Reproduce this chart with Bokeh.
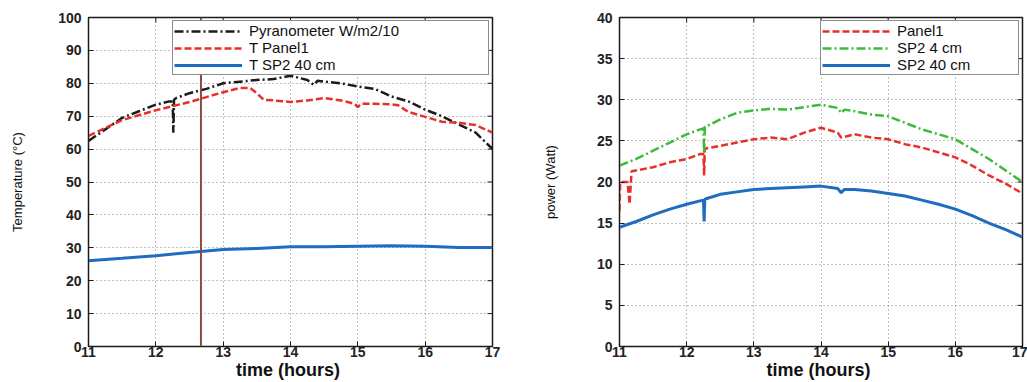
import math
from bokeh.plotting import figure
from bokeh.layouts import row
from bokeh.models import Span, Legend, LegendItem, FixedTicker
from bokeh.embed import file_html
from bokeh.resources import INLINE

# ---------------- data: left panel (temperatures) ----------------
pyr_x = [11.0, 11.25, 11.5, 11.75, 12.0, 12.2, 12.25, 12.26, 12.27, 12.3, 12.5, 12.75, 13.0,
         13.25, 13.5, 13.75, 14.0, 14.25, 14.35, 14.4, 14.5, 14.75, 15.0, 15.25, 15.5,
         15.75, 16.0, 16.25, 16.5, 16.75, 17.0]
pyr_y = [62.5, 66.0, 69.5, 71.5, 73.5, 74.5, 74.5, 65.0, 75.0, 75.5, 77.0, 78.3, 80.0,
         80.5, 81.0, 81.3, 82.3, 81.0, 79.5, 80.8, 80.5, 80.0, 79.0, 78.3, 76.0,
         74.5, 72.0, 70.0, 67.5, 65.0, 60.0]

tp1_x = [11.0, 11.5, 12.0, 12.5, 12.75, 13.0, 13.25, 13.4, 13.5, 13.6, 13.75, 14.0, 14.25,
         14.5, 14.75, 14.95, 15.0, 15.05, 15.25, 15.5, 15.6, 15.75, 16.0, 16.25, 16.5,
         16.75, 17.0]
tp1_y = [64.0, 68.8, 71.8, 74.3, 75.8, 77.3, 78.6, 78.6, 77.0, 75.0, 74.8, 74.3, 74.8,
         75.5, 74.8, 73.8, 72.8, 73.8, 73.8, 73.6, 73.3, 71.3, 69.8, 68.3, 68.0,
         67.3, 65.0]

sp40t_x = [11.0, 11.5, 12.0, 12.5, 13.0, 13.5, 14.0, 14.5, 15.0, 15.5, 16.0, 16.5, 17.0]
sp40t_y = [26.1, 26.8, 27.6, 28.6, 29.5, 29.8, 30.3, 30.3, 30.5, 30.6, 30.5, 30.1, 30.1]

marker_x = 12.67  # vertical brown line seen on the scan

# ---------------- data: right panel (power) ----------------
pan_x = [11.0, 11.01, 11.12, 11.15, 11.18, 11.5, 11.75, 12.0, 12.2, 12.25, 12.26, 12.27,
         12.3, 12.5, 12.75, 13.0, 13.25, 13.5, 13.75, 14.0, 14.25, 14.3, 14.5, 14.75,
         15.0, 15.25, 15.5, 15.75, 16.0, 16.25, 16.5, 16.75, 17.0]
pan_y = [16.5, 20.0, 20.0, 17.3, 21.3, 21.8, 22.4, 22.8, 23.4, 23.4, 20.8, 24.0,
         24.1, 24.4, 24.8, 25.2, 25.4, 25.2, 26.0, 26.6, 26.0, 25.4, 25.8, 25.4,
         25.2, 24.6, 24.2, 23.6, 23.0, 22.0, 20.8, 19.8, 18.6]

sp4_x = [11.0, 11.25, 11.5, 11.75, 12.0, 12.2, 12.25, 12.26, 12.27, 12.3, 12.5, 12.75,
         13.0, 13.25, 13.5, 13.75, 14.0, 14.25, 14.3, 14.35, 14.5, 14.75, 15.0, 15.25,
         15.5, 15.75, 16.0, 16.25, 16.5, 16.75, 17.0]
sp4_y = [22.0, 22.8, 23.8, 24.8, 25.8, 26.4, 26.5, 23.4, 26.7, 26.8, 27.6, 28.4,
         28.7, 28.9, 28.8, 29.1, 29.4, 29.0, 28.4, 28.8, 28.6, 28.2, 28.0, 27.2,
         26.4, 25.8, 25.2, 24.0, 22.8, 21.4, 20.0]

sp40_x = [11.0, 11.25, 11.5, 11.75, 12.0, 12.2, 12.25, 12.26, 12.27, 12.3, 12.5, 12.75,
          13.0, 13.25, 13.5, 13.75, 14.0, 14.25, 14.3, 14.35, 14.5, 14.75, 15.0, 15.25,
          15.5, 15.75, 16.0, 16.25, 16.5, 16.75, 17.0]
sp40_y = [14.5, 15.2, 16.0, 16.7, 17.3, 17.7, 17.8, 15.2, 17.9, 18.0, 18.5, 18.8,
          19.1, 19.2, 19.3, 19.4, 19.5, 19.2, 18.7, 19.1, 19.1, 18.9, 18.6, 18.3,
          17.8, 17.3, 16.7, 15.9, 15.0, 14.2, 13.3]

x_ticks = [11, 12, 13, 14, 15, 16, 17]
y1_ticks = [0, 10, 20, 30, 40, 50, 60, 70, 80, 90, 100]
y2_ticks = [0, 5, 10, 15, 20, 25, 30, 35, 40]

FONT = "Liberation Sans"
BLACK = "#1b1b1b"
RED = "#e8302a"
BLUE = "#1f6cc0"
GREEN = "#3dba3a"


def style(p, yticks, ylabel, ylabel_standoff):
    p.xaxis.ticker = FixedTicker(ticks=x_ticks)
    p.yaxis.ticker = FixedTicker(ticks=yticks)
    p.xaxis.axis_label = "time  (hours)"
    p.yaxis.axis_label = ylabel
    for ax in p.xaxis + p.yaxis:
        ax.major_tick_in = 5
        ax.major_tick_out = 0
        ax.minor_tick_line_color = None
        ax.axis_line_color = BLACK
        ax.major_tick_line_color = BLACK
        ax.major_label_text_font = FONT
        ax.major_label_text_font_style = "bold"
        ax.major_label_text_font_size = "14px"
        ax.major_label_text_color = "#222222"
        ax.axis_label_text_color = "#111111"
    p.xaxis.major_label_standoff = 0
    p.xaxis.axis_label_standoff = 0
    p.xaxis.axis_label_text_font = FONT
    p.xaxis.axis_label_text_font_size = "18px"
    p.xaxis.axis_label_text_font_style = "bold"
    p.yaxis.major_label_standoff = 7
    p.yaxis.axis_label_standoff = ylabel_standoff
    p.yaxis.axis_label_text_font = FONT
    p.yaxis.axis_label_text_font_size = "13px"
    p.yaxis.axis_label_text_font_style = "normal"
    p.grid.grid_line_color = "#808080"
    p.grid.grid_line_dash = "1 3"
    p.grid.grid_line_width = 1
    p.outline_line_color = BLACK
    p.outline_line_width = 1.5
    p.background_fill_color = "white"
    p.border_fill_color = "white"
    # inward ticks on the top and right edges of the box (no labels)
    xr_end = p.x_range.end
    yr_end = p.y_range.end
    p.ray(x=x_ticks, y=[yr_end] * len(x_ticks), length=5, length_units="screen",
          angle=-math.pi / 2, line_color=BLACK, line_width=1)
    p.ray(x=[xr_end] * len(yticks), y=yticks, length=5, length_units="screen",
          angle=math.pi, line_color=BLACK, line_width=1)


def make_legend(items, label_width):
    return Legend(items=items, location="top_right", margin=3, padding=1, spacing=-4,
                  glyph_width=68, glyph_height=12, label_height=12, label_width=label_width,
                  label_text_font=FONT, label_text_font_size="15px", label_standoff=7,
                  label_text_color="#111111",
                  border_line_color=BLACK, border_line_width=1.2, background_fill_alpha=1)


# ---------------- left figure ----------------
p1 = figure(width=515, height=382, x_range=(11, 17), y_range=(0, 100),
            output_backend="svg", toolbar_location=None,
            min_border_left=88, min_border_right=23, min_border_top=17, min_border_bottom=33)
style(p1, y1_ticks, "Temperature (°C)", 30)
r_pyr = p1.line(pyr_x, pyr_y, line_color=BLACK, line_width=2.5, line_dash="9 3 2 3")
r_tp1 = p1.line(tp1_x, tp1_y, line_color=RED, line_width=2.5, line_dash="7 3")
r_sp40t = p1.line(sp40t_x, sp40t_y, line_color=BLUE, line_width=3)
p1.add_layout(Span(location=marker_x, dimension="height", line_color="#8a4a3c", line_width=2))
p1.add_layout(make_legend([LegendItem(label="Pyranometer W/m2/10", renderers=[r_pyr]),
                           LegendItem(label="T Panel1", renderers=[r_tp1]),
                           LegendItem(label="T SP2 40 cm", renderers=[r_sp40t])], 238))

# ---------------- right figure ----------------
p2 = figure(width=512, height=382, x_range=(11, 17), y_range=(0, 40),
            output_backend="svg", toolbar_location=None,
            min_border_left=104, min_border_right=5, min_border_top=15, min_border_bottom=35)
style(p2, y2_ticks, "power (Watt)", 36)
r_pan = p2.line(pan_x, pan_y, line_color=RED, line_width=2.5, line_dash="7 3")
r_sp4 = p2.line(sp4_x, sp4_y, line_color=GREEN, line_width=2.5, line_dash="9 3 2 3")
r_sp40 = p2.line(sp40_x, sp40_y, line_color=BLUE, line_width=3)
p2.add_layout(make_legend([LegendItem(label="Panel1", renderers=[r_pan]),
                           LegendItem(label="SP2 4 cm", renderers=[r_sp4]),
                           LegendItem(label="SP2 40 cm", renderers=[r_sp40])], 120))

layout = row(p1, p2)
open("out.html", "w").write(file_html(layout, INLINE))
